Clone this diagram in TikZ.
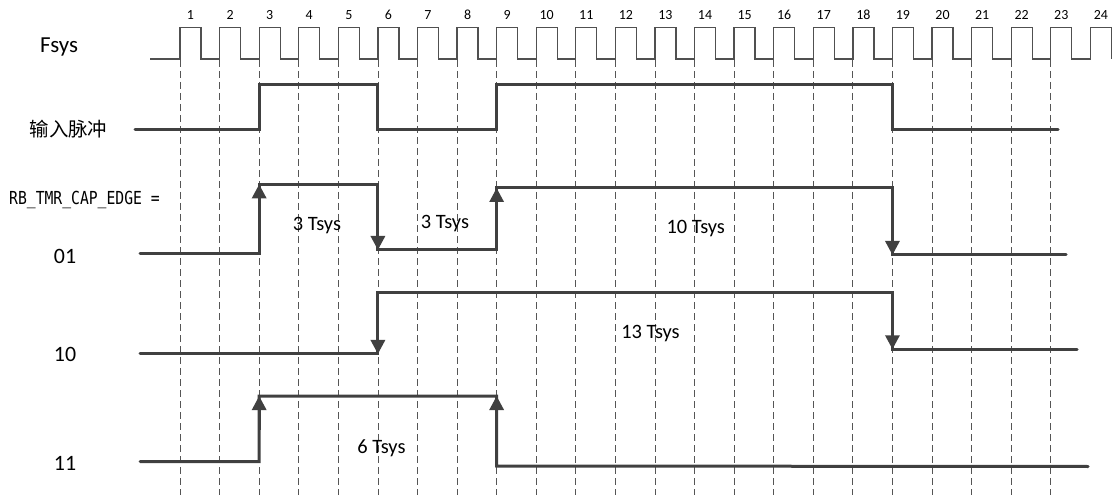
\documentclass[tikz,border=0pt]{standalone}
\usepackage{fontspec}
\usepackage{graphicx}
\setmainfont{Carlito}
\newfontfamily\cjkfont{Noto Sans CJK SC}
\newfontfamily\condmono[FakeStretch=0.82]{DejaVu Sans Mono}
\usetikzlibrary{arrows.meta}
\definecolor{sigcol}{HTML}{404040}
\definecolor{clkcol}{HTML}{505050}
\definecolor{gridcol}{HTML}{555555}
\begin{document}
\begin{tikzpicture}[x=1bp,y=-1bp,
  sig/.style={draw=sigcol, line width=3bp, line cap=round, line join=miter},
  clk/.style={draw=clkcol, line width=1.3bp},
  gridline/.style={draw=gridcol, line width=0.75bp, dash pattern=on 7bp off 4bp},
  tipped/.style={draw=sigcol, line width=3bp, -{Triangle[width=14bp,length=14bp]}},
  biglbl/.style={font=\fontsize{22}{26}\selectfont, inner sep=0pt},
  tlbl/.style={font=\fontsize{20.5}{24}\selectfont, inner sep=0pt, anchor=base},
  numlbl/.style={font=\fontsize{14}{16}\selectfont, inner sep=0pt, anchor=base}]
\useasboundingbox (0,0) rectangle (1115,495);

% edge positions
\foreach \n in {1,...,24} {\coordinate (e\n) at ({180+(\n-1)*39.58},0);}

% grid dashed lines
\foreach \n in {1,...,23} {\draw[gridline] (e\n |- 0,60) -- (e\n |- 0,495);}

% clock
\draw[clk] (150,59) foreach \n in {1,...,24} { -- (e\n |- 0,59) -- ++(0,-31.5) -- ++(21,0) -- ++(0,31.5) };
\foreach \n in {1,...,24} {\node[numlbl] (c\n) at ({190.5+(\n-1)*39.58},19.5) {\n};}

% labels
\node[biglbl, anchor=base west, font=\fontsize{23}{27}\selectfont] (fsys) at (40,52.5) {Fsys};
\node[font=\cjkfont\fontsize{19.5}{22}\selectfont, inner sep=0pt] (inp) at (68.5,129) {输入脉冲};
\node[font=\condmono\fontsize{18}{20}\selectfont, inner sep=0pt, anchor=base west] (reg) at (9,205) {RB\_TMR\_CAP\_EDGE =};
\node[biglbl, anchor=base] (l01) at (65,263.5) {01};
\node[biglbl, anchor=base] (l10) at (65,362) {10};
\node[biglbl, anchor=base] (l11) at (65,470.5) {11};

% input pulse
\draw[sig] (135,130) -- (e3 |- 0,130) -- (e3 |- 0,85) -- (e6 |- 0,85) -- (e6 |- 0,130)
  -- (e9 |- 0,130) -- (e9 |- 0,85) -- (e19 |- 0,85) -- (e19 |- 0,130) -- (1058,130);

% row 01
\draw[sig] (140,254) -- (e3 |- 0,254) -- (e3 |- 0,184.3) -- (e6 |- 0,184.3) -- (e6 |- 0,250)
  -- (e9 |- 0,250) -- (e9 |- 0,188) -- (e19 |- 0,188) -- (e19 |- 0,255) -- (1066,255);
\draw[tipped] (e3 |- 0,230) -- (e3 |- 0,184.3);
\draw[tipped] (e6 |- 0,210) -- (e6 |- 0,250);
\draw[tipped] (e9 |- 0,230) -- (e9 |- 0,188);
\draw[tipped] (e19 |- 0,220) -- (e19 |- 0,255);

% row 10
\draw[sig] (140,354) -- (e6 |- 0,354) -- (e6 |- 0,292.3) -- (e19 |- 0,292.3) -- (e19 |- 0,349.3) -- (1077,349.3);
\draw[tipped] (e6 |- 0,320) -- (e6 |- 0,354);
\draw[tipped] (e19 |- 0,320) -- (e19 |- 0,349.3);

% row 11
\draw[sig] (140,461.5) -- (e3 |- 0,461.5) -- (e3 |- 0,396) -- (e9 |- 0,396) -- (e9 |- 0,466) -- (1088,466.5);
\draw[tipped] (e3 |- 0,430) -- (e3 |- 0,396);
\draw[tipped] (e9 |- 0,430) -- (e9 |- 0,396);

% durations
\node[tlbl] (d1) at (317,231) {3 Tsys};
\node[tlbl] (d2) at (445,228.5) {3 Tsys};
\node[tlbl] (d3) at (695.7,233.5) {10 Tsys};
\node[tlbl] (d4) at (650.5,338.5) {13 Tsys};
\node[tlbl] (d5) at (381.5,453.5) {6 Tsys};
\end{tikzpicture}
\end{document}
